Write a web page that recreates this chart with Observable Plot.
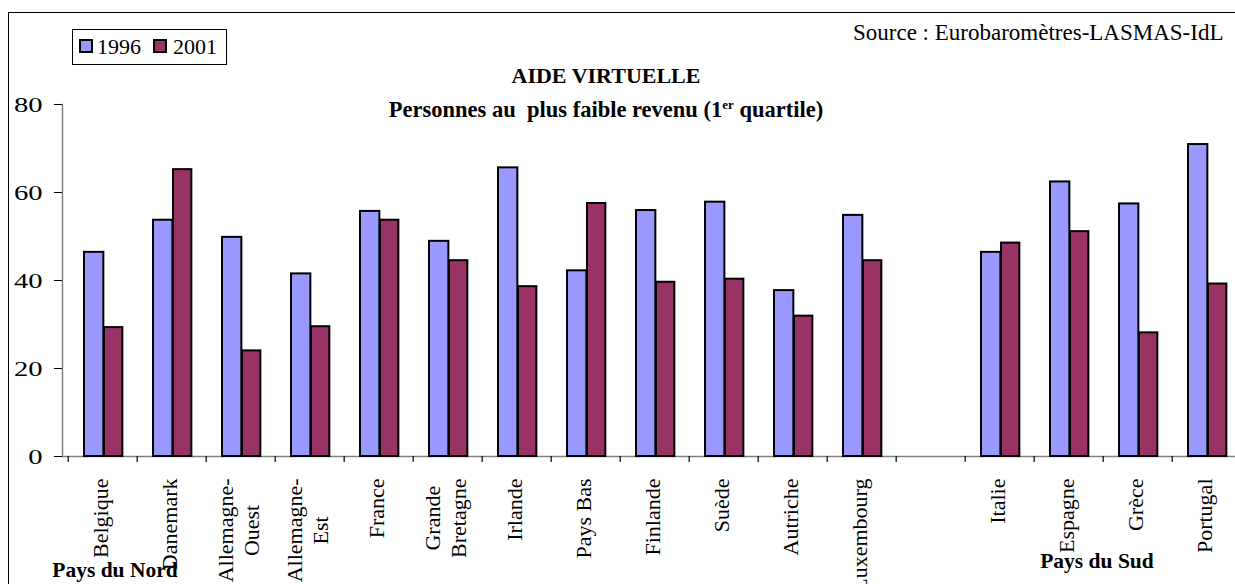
<!DOCTYPE html>
<html><head><meta charset="utf-8">
<script src="https://cdn.jsdelivr.net/npm/d3@7"></script>
<script src="https://cdn.jsdelivr.net/npm/@observablehq/plot@0.6"></script>
<style>
html,body{margin:0;padding:0;width:1235px;height:584px;overflow:hidden;background:#fff;font-family:"Liberation Serif","Times New Roman",serif;color:#000;}
#wrap{position:relative;width:1235px;height:584px;overflow:hidden;}
#chart{position:absolute;left:0;top:0;width:1260px;height:584px;}
#chart svg{max-width:none !important;display:block;}
#frameTop{position:absolute;left:8px;top:12px;width:1227px;height:1px;background:#000;}
#frameLeft{position:absolute;left:8px;top:12px;width:1px;height:572px;background:#000;}
.t{position:absolute;font-size:22px;line-height:22px;white-space:nowrap;}
#title{left:0;width:1212px;text-align:center;top:64.6px;font-weight:bold;}
#subtitle{left:0;width:1212px;text-align:center;top:99.4px;font-weight:bold;font-size:22.5px;line-height:22.5px;}
#subtitle sup{font-size:13px;vertical-align:top;position:relative;top:-5px;}
#source{left:853px;top:20.7px;font-size:23px;line-height:23px;}
#legend{position:absolute;left:72px;top:29px;width:153px;height:34px;border:1px solid #000;background:#fff;}
#legend .sw{position:absolute;top:9px;width:10px;height:10px;border:2px solid #000;}
#legend .lt{position:absolute;top:5.6px;font-size:22px;line-height:22px;}
</style></head>
<body>
<div id="wrap">
<div id="chart"></div>
<div id="title" class="t">AIDE VIRTUELLE</div>
<div id="subtitle" class="t">Personnes au&nbsp; plus faible revenu (1<sup>er</sup> quartile)</div>
<div id="source" class="t">Source : Eurobaromètres-LASMAS-IdL</div>
<div id="legend"></div>
<div id="frameTop"></div>
<div id="frameLeft"></div>
</div>
<script>
// ---- data ----
const categories = ["Belgique","Danemark","Allemagne-\nOuest","Allemagne-\nEst","France","Grande\nBretagne","Irlande","Pays Bas","Finlande","Suède","Autriche","Luxembourg","","Italie","Espagne","Grèce","Portugal"];
const values1996 = [46.4,53.7,49.8,41.5,55.7,48.9,65.6,42.2,55.9,57.8,37.7,54.8,null,46.4,62.4,57.4,70.9];
const values2001 = [29.3,65.2,24.0,29.5,53.7,44.5,38.6,57.5,39.6,40.3,31.9,44.5,null,48.5,51.1,28.1,39.2];
const series = ["1996","2001"];
const seriesColors = ["#9999FF","#993366"];
const yTicks = [0,20,40,60,80];
const groupNord = "Pays du Nord";
const groupSud = "Pays du Sud";

// ---- layout ----
const W = 1260, H = 584;
const mL = 62, mR = 14, mT = 104, mB = 128;
const step = (W - mL - mR) / categories.length;

const rows1996 = categories.map((c,i)=>({cat:c, value:values1996[i]})).filter(d=>d.value!=null);
const rows2001 = categories.map((c,i)=>({cat:c, value:values2001[i]})).filter(d=>d.value!=null);

const plot = Plot.plot({
  width: W, height: H,
  marginLeft: mL, marginRight: mR, marginTop: mT, marginBottom: mB,
  style: {fontFamily: '"Liberation Serif","Times New Roman",serif', fontSize: "22px", background: "transparent", color: "#000", overflow: "visible", maxWidth: "none"},
  x: {type: "band", domain: categories, padding: 0, axis: null},
  y: {domain: [0, 80], axis: null},
  marks: [
    Plot.frame({anchor: "left", stroke: "#808080", strokeWidth: 1.5}),
    Plot.ruleY([0], {stroke: "#808080", strokeWidth: 1.5}),
    Plot.ruleX(categories, {x: d=>d, y1: ()=>0, y2: ()=>0, insetBottom: -6, dx: -step/2, stroke: "#000", strokeWidth: 1.2}),
    Plot.barY(rows1996, {x: "cat", y: "value", fill: seriesColors[0], stroke: "#000", strokeWidth: 2, insetLeft: 16, insetRight: step - 36}),
    Plot.barY(rows2001, {x: "cat", y: "value", fill: seriesColors[1], stroke: "#000", strokeWidth: 2, insetLeft: 36, insetRight: step - 55}),
    Plot.axisY({ticks: yTicks, tickSize: 8, tickPadding: 12, fontSize: 22, tickFormat: d=>String(d), stroke: "#000", label: null}),
    Plot.text(categories.filter(d=>d), {x: d=>d, y: ()=>0, text: d=>d, rotate: -90, textAnchor: "end", lineAnchor: "middle", dx: -3, dy: 22, fontSize: 22, lineHeight: 1.18, fill: "#000", ariaDescription: "xlabels"}),
    Plot.text([groupNord], {x: ()=>categories[0], y: ()=>0, text: d=>d, dx: 12, dy: 114, fontSize: 21.5, fontWeight: "bold", fill: "#000", lineAnchor: "middle"}),
    Plot.text([groupSud], {x: ()=>categories[14], y: ()=>0, text: d=>d, dx: 28, dy: 105, fontSize: 21.5, fontWeight: "bold", fill: "#000", lineAnchor: "middle"})
  ]
});
plot.style.maxWidth = "none";
document.getElementById("chart").append(plot);

// center multi-line rotated labels, block aligned at the top
plot.querySelectorAll('g[aria-description="xlabels"] text').forEach(t => {
  const spans = t.querySelectorAll("tspan");
  const els = spans.length ? [...spans] : [t];
  const L = Math.max(...els.map(e => e.getComputedTextLength()));
  t.setAttribute("text-anchor", "middle");
  els.forEach(e => e.setAttribute("x", -L/2));
});

// widen y tick labels like the original's stretched digits, keeping their right edge
plot.querySelectorAll('g[aria-label="y-axis tick label"] text').forEach(t => {
  const bb = t.getBBox();
  const r = bb.x + bb.width;
  const tr = t.getAttribute("transform") || "";
  t.setAttribute("transform", `${tr} translate(${r},0) scale(1.3,1) translate(${-r},0)`);
});

// legend
const lg = document.getElementById("legend");
const swX = [6, 80], txX = [24, 100];
series.forEach((s,i)=>{
  const sw = document.createElement("div"); sw.className = "sw";
  sw.style.left = swX[i] + "px"; sw.style.background = seriesColors[i];
  const tx = document.createElement("div"); tx.className = "lt";
  tx.style.left = txX[i] + "px"; tx.textContent = s;
  lg.append(sw, tx);
});
</script>
</body></html>
